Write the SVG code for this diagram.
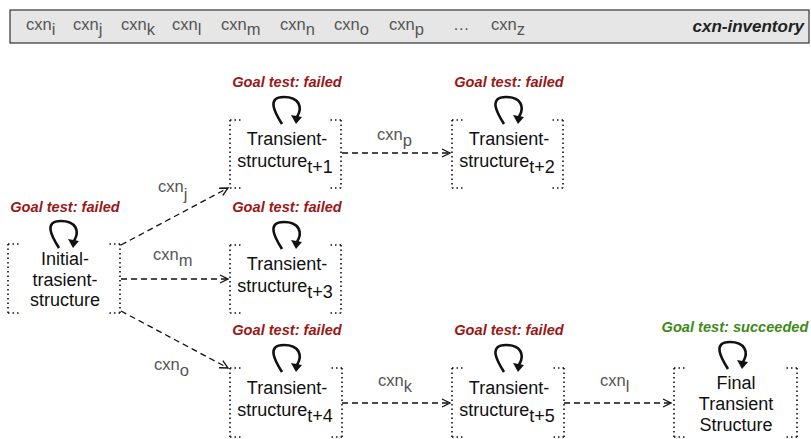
<svg xmlns="http://www.w3.org/2000/svg" xmlns:xlink="http://www.w3.org/1999/xlink" width="811" height="439" viewBox="0 0 811 439">
<style>
text{font-family:"Liberation Sans",Arial,sans-serif}
.hdr{font-size:16.5px;fill:#555}
.inv{font-size:17px;font-weight:bold;font-style:italic;fill:#222}
.nt{font-size:18px;fill:#111;text-anchor:middle}
.gf{font-size:14.6px;font-weight:bold;font-style:italic;fill:#9a1717;text-anchor:middle}
.gs{font-size:14.6px;font-weight:bold;font-style:italic;fill:#3f8a1a;text-anchor:middle}
.el{font-size:16.5px;fill:#555}
.dot{fill:none;stroke:#111;stroke-width:1.6;stroke-dasharray:1.5 3}
.edge{fill:none;stroke:#111;stroke-width:1.3;stroke-dasharray:6 4}
.loop{fill:none;stroke:#111;stroke-width:2.6}
</style>
<defs>
<marker id="ah" viewBox="0 0 10 10" refX="9" refY="5" markerWidth="10" markerHeight="10" markerUnits="userSpaceOnUse" orient="auto">
<path d="M1,1 L9,5 L1,9" fill="none" stroke="#111" stroke-width="1.3"/>
</marker>
<g id="selfloop">
<path class="loop" d="M0,0 C-7,-11 -16,-27 2,-27 C17,-27 21,-17 15,-7"/>
<polygon points="14,0 9,-9 20,-7" fill="#111"/>
</g>
</defs>

<g id="inventory">
<rect x="10" y="10" width="799" height="33" fill="#e6e6e6" stroke="#333" stroke-width="1.2"/>
<text class="hdr" x="26" y="30">cxn<tspan dy="5">i</tspan></text>
<text class="hdr" x="73" y="30">cxn<tspan dy="5">j</tspan></text>
<text class="hdr" x="121" y="30">cxn<tspan dy="5">k</tspan></text>
<text class="hdr" x="172" y="30">cxn<tspan dy="5">l</tspan></text>
<text class="hdr" x="221" y="30">cxn<tspan dy="5">m</tspan></text>
<text class="hdr" x="280" y="30">cxn<tspan dy="5">n</tspan></text>
<text class="hdr" x="334" y="30">cxn<tspan dy="5">o</tspan></text>
<text class="hdr" x="389" y="30">cxn<tspan dy="5">p</tspan></text>
<text class="hdr" x="453" y="30">…</text>
<text class="hdr" x="491" y="30">cxn<tspan dy="5">z</tspan></text>
<text class="inv" x="804" y="32" text-anchor="end">cxn-inventory</text>
</g>

<g id="connectors">
<path class="edge" d="M121,245 L228,188" marker-end="url(#ah)"/>
<path class="edge" d="M121,279 L228,279" marker-end="url(#ah)"/>
<path class="edge" d="M121,311 L228,368" marker-end="url(#ah)"/>
<path class="edge" d="M342,153 L450,153" marker-end="url(#ah)"/>
<path class="edge" d="M342,403 L450,403" marker-end="url(#ah)"/>
<path class="edge" d="M564,403 L671,403" marker-end="url(#ah)"/>
<text class="el" x="158" y="192">cxn<tspan dy="8">j</tspan></text>
<text class="el" x="153" y="260">cxn<tspan dy="6">m</tspan></text>
<text class="el" x="154" y="370">cxn<tspan dy="6">o</tspan></text>
<text class="el" x="377" y="140">cxn<tspan dy="6">p</tspan></text>
<text class="el" x="378" y="386">cxn<tspan dy="6">k</tspan></text>
<text class="el" x="600" y="386">cxn<tspan dy="6">l</tspan></text>
</g>

<g id="initial">
<path class="dot" d="M8,244 V313 M8,244 H20 M8,313 H20 M120,244 V313 M120,244 H108 M120,313 H108"/>
<use xlink:href="#selfloop" x="59" y="248"/>
<text class="gf" x="65" y="212">Goal test: failed</text>
<text class="nt" x="65" y="265">Initial-</text>
<text class="nt" x="65" y="286">trasient-</text>
<text class="nt" x="65" y="306">structure</text>
</g>

<g id="t1">
<path class="dot" d="M230,120 V188 M230,120 H242 M230,188 H242 M341,120 V188 M341,120 H329 M341,188 H329"/>
<use xlink:href="#selfloop" x="282" y="124"/>
<text class="gf" x="287" y="87">Goal test: failed</text>
<text class="nt" x="287" y="145">Transient-</text>
<text class="nt" x="285" y="167">structure<tspan dy="6">t+1</tspan></text>
</g>

<g id="t2">
<path class="dot" d="M452,120 V188 M452,120 H464 M452,188 H464 M563,120 V188 M563,120 H551 M563,188 H551"/>
<use xlink:href="#selfloop" x="504" y="124"/>
<text class="gf" x="509" y="87">Goal test: failed</text>
<text class="nt" x="509" y="145">Transient-</text>
<text class="nt" x="507" y="167">structure<tspan dy="6">t+2</tspan></text>
</g>

<g id="t3">
<path class="dot" d="M230,245 V313 M230,245 H242 M230,313 H242 M341,245 V313 M341,245 H329 M341,313 H329"/>
<use xlink:href="#selfloop" x="282" y="249"/>
<text class="gf" x="287" y="212">Goal test: failed</text>
<text class="nt" x="287" y="270">Transient-</text>
<text class="nt" x="285" y="292">structure<tspan dy="6">t+3</tspan></text>
</g>

<g id="t4">
<path class="dot" d="M230,368 V437 M230,368 H242 M230,437 H242 M342,368 V437 M342,368 H330 M342,437 H330"/>
<use xlink:href="#selfloop" x="282" y="372"/>
<text class="gf" x="287" y="335">Goal test: failed</text>
<text class="nt" x="287" y="394">Transient-</text>
<text class="nt" x="285" y="416">structure<tspan dy="6">t+4</tspan></text>
</g>

<g id="t5">
<path class="dot" d="M452,368 V437 M452,368 H464 M452,437 H464 M564,368 V437 M564,368 H552 M564,437 H552"/>
<use xlink:href="#selfloop" x="504" y="372"/>
<text class="gf" x="509" y="335">Goal test: failed</text>
<text class="nt" x="509" y="394">Transient-</text>
<text class="nt" x="507" y="416">structure<tspan dy="6">t+5</tspan></text>
</g>

<g id="final">
<path class="dot" d="M674,368 V437 M674,368 H686 M674,437 H686 M797,368 V437 M797,368 H785 M797,437 H785"/>
<use xlink:href="#selfloop" x="728" y="369"/>
<text class="gs" x="735" y="332">Goal test: succeeded</text>
<text class="nt" x="736" y="389">Final</text>
<text class="nt" x="736" y="410">Transient</text>
<text class="nt" x="736" y="431">Structure</text>
</g>
</svg>
